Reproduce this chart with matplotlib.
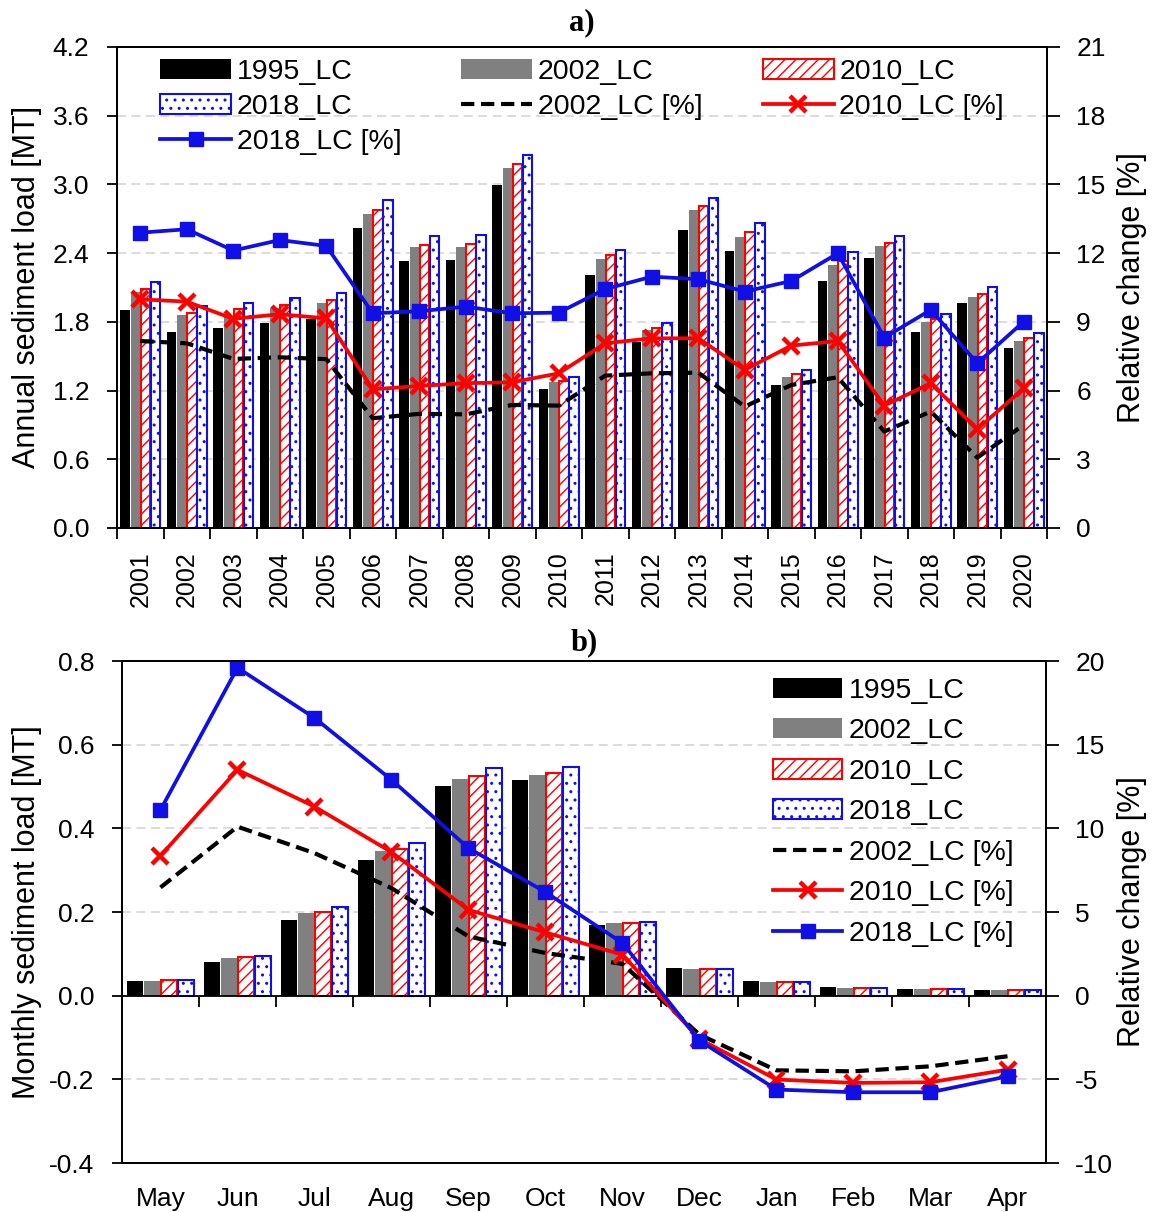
import numpy as np
import matplotlib
matplotlib.use("Agg")
import matplotlib.pyplot as plt
from matplotlib.ticker import FixedLocator, FormatStrFormatter

plt.rcParams["font.family"] = ["Liberation Sans", "DejaVu Sans"]
plt.rcParams["axes.unicode_minus"] = False
plt.rcParams["hatch.linewidth"] = 1.0

# ---------------- annual data (a) ----------------
years = [str(y) for y in range(2001, 2021)]
annual_1995 = [1.90, 1.71, 1.75, 1.79, 1.82, 2.62, 2.33, 2.34, 2.99, 1.21,
               2.21, 1.62, 2.60, 2.42, 1.25, 2.16, 2.36, 1.71, 1.96, 1.57]
annual_2002 = [2.06, 1.86, 1.84, 1.92, 1.96, 2.74, 2.45, 2.45, 3.14, 1.27,
               2.35, 1.73, 2.78, 2.54, 1.32, 2.30, 2.46, 1.80, 2.02, 1.63]
annual_2010 = [2.09, 1.88, 1.91, 1.95, 1.99, 2.78, 2.47, 2.48, 3.18, 1.28,
               2.38, 1.75, 2.81, 2.58, 1.34, 2.33, 2.49, 1.82, 2.04, 1.66]
annual_2018 = [2.15, 1.94, 1.96, 2.01, 2.05, 2.86, 2.55, 2.56, 3.26, 1.32,
               2.43, 1.79, 2.88, 2.66, 1.38, 2.41, 2.55, 1.87, 2.10, 1.70]
annual_pct_2002 = [8.16, 8.06, 7.38, 7.45, 7.37, 4.79, 4.98, 4.96, 5.37, 5.34,
                   6.65, 6.75, 6.78, 5.30, 6.24, 6.58, 4.21, 5.08, 3.07, 4.50]
annual_pct_2010 = [9.98, 9.88, 9.13, 9.33, 9.15, 6.05, 6.20, 6.32, 6.36, 6.75,
                   8.06, 8.28, 8.28, 6.90, 7.96, 8.16, 5.34, 6.32, 4.31, 6.10]
annual_pct_2018 = [12.89, 13.04, 12.11, 12.57, 12.31, 9.37, 9.46, 9.66, 9.37, 9.40,
                   10.43, 10.97, 10.86, 10.32, 10.78, 11.99, 8.31, 9.52, 7.19, 9.01]

# ---------------- monthly data (b) ----------------
months = ["May", "Jun", "Jul", "Aug", "Sep", "Oct", "Nov", "Dec",
          "Jan", "Feb", "Mar", "Apr"]
monthly_1995 = [0.034, 0.081, 0.181, 0.325, 0.501, 0.515, 0.170, 0.066,
                0.034, 0.020, 0.016, 0.014]
monthly_2002 = [0.036, 0.089, 0.197, 0.346, 0.519, 0.528, 0.174, 0.064,
                0.033, 0.019, 0.015, 0.014]
monthly_2010 = [0.037, 0.092, 0.201, 0.351, 0.526, 0.533, 0.174, 0.064,
                0.033, 0.018, 0.015, 0.013]
monthly_2018 = [0.037, 0.096, 0.211, 0.365, 0.544, 0.546, 0.175, 0.064,
                0.032, 0.018, 0.015, 0.013]
monthly_pct_2002 = [6.47, 10.1, 8.52, 6.43, 3.54, 2.55, 1.90, -2.33,
                    -4.46, -4.52, -4.22, -3.62]
monthly_pct_2010 = [8.36, 13.5, 11.3, 8.58, 5.13, 3.78, 2.45, -2.59,
                    -5.01, -5.21, -5.17, -4.42]
monthly_pct_2018 = [11.1, 19.6, 16.6, 12.9, 8.82, 6.19, 3.15, -2.69,
                    -5.61, -5.77, -5.77, -4.82]

BLUE = "#1010E6"
RED = "#FF0000"
GRAY = "#808080"
YTICK_FS = 19
YEAR_FS = 18
MONTH_FS = 19
LABEL_FS = 22
LEG_FS = 20.5
SERIF = ["Liberation Serif", "DejaVu Serif"]

fig = plt.figure(figsize=(11.53, 12.12), dpi=100)
ax_a = fig.add_axes([0.1015, 0.5644, 0.8066, 0.3969])
ax_b = fig.add_axes([0.1058, 0.0404, 0.8014, 0.4142])


def draw_bars(ax, n, series):
    x = np.arange(n)
    w = 0.2
    offs = [-0.33, -0.11, 0.11, 0.33]
    styles = [
        dict(color="black", label="1995_LC"),
        dict(color=GRAY, label="2002_LC"),
        dict(facecolor="white", edgecolor=RED, hatch="///", linewidth=1.5, label="2010_LC"),
        dict(facecolor="white", edgecolor=BLUE, hatch="..", linewidth=1.5, label="2018_LC"),
    ]
    handles = []
    for vals, off, st in zip(series, offs, styles):
        h = ax.bar(x + off, vals, w, zorder=2, **st)
        handles.append(h)
    return handles


def draw_lines(ax, n, series):
    x = np.arange(n)
    h1, = ax.plot(x, series[0], color="black", lw=3.0, ls=(0, (3.2, 1.6)),
                  label="2002_LC [%]")
    h2, = ax.plot(x, series[1], color=RED, lw=2.7, marker="x", ms=12, mew=3.2,
                  label="2010_LC [%]")
    h3, = ax.plot(x, series[2], color=BLUE, lw=2.7, marker="s", ms=10.5,
                  label="2018_LC [%]")
    return [h1, h2, h3]


def style_axes(ax, axr, n, ylim, yticks, rlim, rticks):
    ax.set_xlim(-0.5, n - 0.5)
    ax.set_ylim(*ylim)
    ax.set_yticks(yticks)
    ax.yaxis.set_major_formatter(FormatStrFormatter("%.1f"))
    ax.set_axisbelow(True)
    ax.yaxis.grid(True, color="#d9d9d9", ls=(0, (5, 3)), lw=1.3)
    axr.set_ylim(*rlim)
    axr.set_yticks(rticks)
    ax.tick_params(axis="y", direction="out", length=7, width=1.3,
                   labelsize=YTICK_FS, pad=13)
    axr.tick_params(axis="y", direction="out", length=9, width=1.3,
                    labelsize=YTICK_FS, pad=12)
    for a in (ax, axr):
        for s in a.spines.values():
            s.set_linewidth(1.3)


def place_ylabels(fig, ax, axr, left_px, right_px):
    # put both y labels at fixed pixel columns of the figure
    fw = fig.get_figwidth() * fig.dpi
    x0, _, w, _ = ax.get_position().bounds
    ax.yaxis.set_label_coords((left_px / fw - x0) / w, 0.5)
    axr.yaxis.set_label_coords((right_px / fw - x0) / w, 0.5)


# ---------------- panel a ----------------
nA = len(years)
bars_a = draw_bars(ax_a, nA, [annual_1995, annual_2002, annual_2010, annual_2018])
axr_a = ax_a.twinx()
lines_a = draw_lines(axr_a, nA, [annual_pct_2002, annual_pct_2010, annual_pct_2018])
style_axes(ax_a, axr_a, nA, (0, 4.2), np.arange(0, 4.21, 0.6),
           (0, 21), np.arange(0, 22, 3))
ax_a.set_xticks(np.arange(nA))
ax_a.set_xticklabels(years, rotation=90, fontsize=YEAR_FS)
ax_a.xaxis.set_minor_locator(FixedLocator(np.arange(-0.5, nA, 1.0)))
ax_a.tick_params(axis="x", which="major", length=0, pad=17)
ax_a.tick_params(axis="x", which="minor", direction="out", length=8, width=1.3)
ax_a.set_ylabel("Annual sediment load [MT]", fontsize=LABEL_FS)
axr_a.set_ylabel("Relative change [%]", fontsize=LABEL_FS)
place_ylabels(fig, ax_a, axr_a, 42, 1117)
ax_a.set_title("a)", fontsize=22, fontweight="bold", family=SERIF, pad=12)

order = [bars_a[0], bars_a[3], lines_a[2], bars_a[1], lines_a[0], bars_a[2], lines_a[1]]
axr_a.legend(handles=order, labels=[h.get_label() for h in order], ncol=3,
             loc="upper left", bbox_to_anchor=(0.040, 0.986), frameon=False,
             fontsize=LEG_FS, handlelength=2.5, handletextpad=0.2,
             columnspacing=2.1, labelspacing=0.31, borderaxespad=0.0,
             borderpad=0.2)

# ---------------- panel b ----------------
nB = len(months)
bars_b = draw_bars(ax_b, nB, [monthly_1995, monthly_2002, monthly_2010, monthly_2018])
axr_b = ax_b.twinx()
lines_b = draw_lines(axr_b, nB, [monthly_pct_2002, monthly_pct_2010, monthly_pct_2018])
style_axes(ax_b, axr_b, nB, (-0.4, 0.8), np.arange(-0.4, 0.81, 0.2),
           (-10, 20), np.arange(-10, 21, 5))
ax_b.set_xticks(np.arange(nB))
ax_b.set_xticklabels(months, fontsize=MONTH_FS)
ax_b.tick_params(axis="x", which="major", length=0, pad=17)
# zero baseline with group separators
ax_b.axhline(0, color="black", lw=1.3, zorder=3)
sec = ax_b.secondary_xaxis(1 / 3)
sec.set_xticks(np.arange(-0.5, nB, 1.0))
sec.tick_params(axis="x", direction="out", length=8, width=1.3, labelbottom=False,
                labeltop=False, bottom=True, top=False)
sec.spines["bottom"].set_visible(False)
sec.spines["top"].set_visible(False)
ax_b.set_ylabel("Monthly sediment load [MT]", fontsize=LABEL_FS)
axr_b.set_ylabel("Relative change [%]", fontsize=LABEL_FS)
place_ylabels(fig, ax_b, axr_b, 42, 1117)
ax_b.set_title("b)", fontsize=22, fontweight="bold", family=SERIF, pad=8)

leg_b = bars_b + lines_b
axr_b.legend(handles=leg_b, labels=[h.get_label() for h in leg_b], ncol=1,
             loc="upper right", bbox_to_anchor=(0.971, 0.978), frameon=False,
             fontsize=LEG_FS, handlelength=2.4, handletextpad=0.25,
             labelspacing=0.51, borderaxespad=0.0, borderpad=0.2)

fig.savefig("out.png", dpi=100)
